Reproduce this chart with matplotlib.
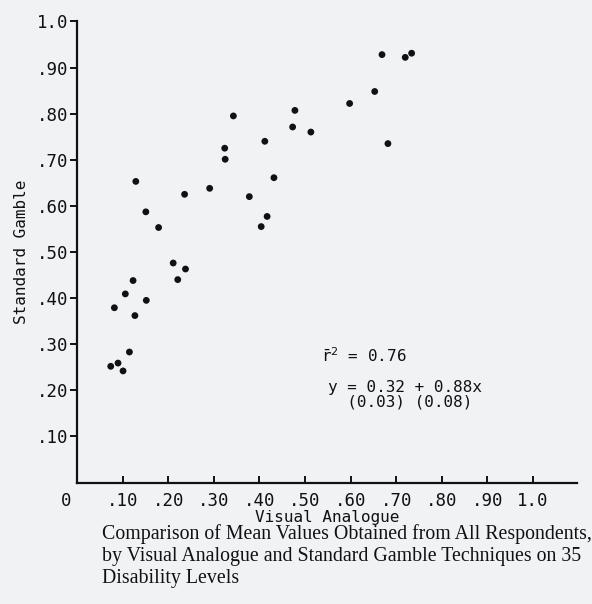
import matplotlib
matplotlib.use("Agg")
import matplotlib.pyplot as plt

visual_analogue = [0.129, 0.151, 0.179, 0.236, 0.291, 0.324, 0.325, 0.343, 0.378, 0.412,
                   0.432, 0.404, 0.417, 0.473, 0.478, 0.211, 0.221, 0.238, 0.123, 0.106,
                   0.152, 0.669, 0.720, 0.734, 0.653, 0.598, 0.513, 0.682, 0.082, 0.127,
                   0.115, 0.074, 0.090, 0.101]
standard_gamble = [0.653, 0.587, 0.553, 0.625, 0.638, 0.725, 0.701, 0.795, 0.620, 0.740,
                   0.661, 0.555, 0.577, 0.771, 0.807, 0.476, 0.440, 0.463, 0.438, 0.409,
                   0.395, 0.928, 0.922, 0.931, 0.848, 0.822, 0.760, 0.735, 0.379, 0.362,
                   0.283, 0.252, 0.259, 0.242]

x_ticks = [0.1, 0.2, 0.3, 0.4, 0.5, 0.6, 0.7, 0.8, 0.9, 1.0]
x_tick_labels = [".10", ".20", ".30", ".40", ".50", ".60", ".70", ".80", ".90", "1.0"]
y_ticks = [0.1, 0.2, 0.3, 0.4, 0.5, 0.6, 0.7, 0.8, 0.9, 1.0]
y_tick_labels = [".10", ".20", ".30", ".40", ".50", ".60", ".70", ".80", ".90", "1.0"]

x_label = "Visual Analogue"
y_label = "Standard Gamble"
r2_text = r"$\bar{\mathtt{r}}^{2}$ = 0.76"
eq_text = "y = 0.32 + 0.88x\n  (0.03) (0.08)"
caption = ("Comparison of Mean Values Obtained from All Respondents,\n"
           "by Visual Analogue and Standard Gamble Techniques on 35\n"
           "Disability Levels")

bg = "#f1f2f4"
ink = "#111111"
mono = "DejaVu Sans Mono"
plt.rcParams["mathtext.fontset"] = "dejavusans"

fig = plt.figure(figsize=(5.92, 6.04), dpi=100, facecolor=bg)
W, H = 592, 604
left, right, top, bottom = 77, 577, 21.4, 482.5
ax = fig.add_axes([left / W, 1 - bottom / H, (right - left) / W, (bottom - top) / H])
ax.set_facecolor(bg)

ax.scatter(visual_analogue, standard_gamble, s=24, color=ink, edgecolors="none", zorder=3)

ax.set_xlim(0, (right - left) / 455.9)
ax.set_ylim(0, 1.0)

for s in ["top", "right"]:
    ax.spines[s].set_visible(False)
for s in ["left", "bottom"]:
    ax.spines[s].set_linewidth(1.6)
    ax.spines[s].set_color(ink)

ax.set_xticks(x_ticks)
ax.set_xticklabels(x_tick_labels, fontfamily=mono, fontsize=12.5, color=ink)
ax.set_yticks(y_ticks)
ax.set_yticklabels(y_tick_labels, fontfamily=mono, fontsize=12.5, color=ink)
ax.tick_params(axis="x", direction="in", length=5, width=1.4, pad=7, colors=ink)
ax.tick_params(axis="y", direction="out", length=5, width=1.4, pad=1, colors=ink)

ax.annotate("0", xy=(0, 0), xytext=(-8, -7), textcoords="offset points",
            ha="center", va="top", fontfamily=mono, fontsize=12.5, color=ink)

ax.set_xlabel(x_label, fontfamily=mono, fontsize=11.5, color=ink, labelpad=0)
ax.set_ylabel(y_label, fontfamily=mono, fontsize=11.5, color=ink, labelpad=6)

ax.text(0.535, 0.275, r2_text, fontfamily=mono, fontsize=11.5, color=ink,
        ha="left", va="center")
ax.text(0.55, 0.19, eq_text, fontfamily=mono, fontsize=11.5, color=ink,
        ha="left", va="center", linespacing=0.95)

fig.text(102 / W, 1 - 524.5 / H, caption, fontfamily="Liberation Serif", fontsize=14.3,
         color=ink, ha="left", va="top", linespacing=1.2)

fig.savefig("out.png", dpi=100, facecolor=bg)
